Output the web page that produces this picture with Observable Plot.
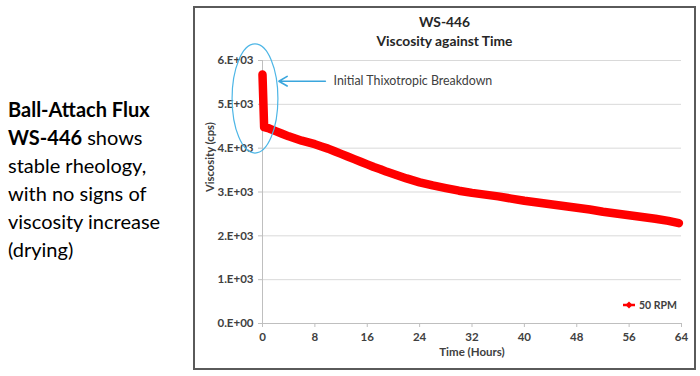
<!DOCTYPE html>
<html><head><meta charset="utf-8">
<script src="https://cdn.jsdelivr.net/npm/d3@7"></script>
<script src="https://cdn.jsdelivr.net/npm/@observablehq/plot@0.6"></script>
<style>
body{margin:0;width:700px;height:376px;background:#fff;position:relative;overflow:hidden;font-family:Lato,"Open Sans",sans-serif;}
#side{position:absolute;left:8px;top:95px;font-size:20px;line-height:28px;color:#000;}
#side b{font-weight:bold;}
#box{position:absolute;left:193px;top:6px;width:499px;height:360px;border:2px solid #5a5a5a;}
#title{position:absolute;left:193px;width:503px;top:12px;text-align:center;font-weight:bold;font-size:13.8px;line-height:19px;color:#262626;}
#chart{position:absolute;left:193px;top:50px;}
#legend{position:absolute;left:621px;top:299px;font-size:10.5px;font-weight:bold;color:#404040;display:flex;align-items:center;}
</style></head>
<body>
<div id="side"><b>Ball-Attach Flux</b><br><b>WS-446</b> shows<br>stable rheology,<br>with no signs of<br>viscosity increase<br>(drying)</div>
<div id="box"></div>
<div id="title">WS-446<br>Viscosity against Time</div>
<div id="chart"></div>
<div id="legend"><svg width="16" height="12"><line x1="2" y1="6" x2="14" y2="6" stroke="red" stroke-width="2.5"/><rect x="5.5" y="3.5" width="5" height="5" fill="red" transform="rotate(45 8 6)"/></svg><span style="margin-left:2px">50 RPM</span></div>
<script>
// Data
const hours = [0, 0.25, 1, 2, 3, 4, 5, 6, 7, 8, 9, 10, 11, 12, 13, 14, 15, 16, 17, 18, 19, 20, 21, 22, 24, 26, 28, 30, 32, 34, 36, 38, 40, 42, 44, 46, 48, 50, 52, 54, 56, 58, 60, 62, 63.6];
const viscosity = [5680, 4480, 4450, 4390, 4330, 4270, 4220, 4170, 4130, 4090, 4040, 3990, 3930, 3870, 3810, 3750, 3690, 3630, 3570, 3520, 3460, 3410, 3360, 3310, 3220, 3150, 3090, 3030, 2980, 2940, 2900, 2850, 2800, 2760, 2720, 2680, 2640, 2600, 2550, 2510, 2470, 2430, 2390, 2340, 2290];
const xTicks = [0, 8, 16, 24, 32, 40, 48, 56, 64];
const yTicks = [0, 1000, 2000, 3000, 4000, 5000, 6000];
const yTickLabels = ["0.E+00", "1.E+03", "2.E+03", "3.E+03", "4.E+03", "5.E+03", "6.E+03"];
const annotationText = ["Initial Thixotropic Breakdown"];
const annotationArrow = [{x1: 9.6, y1: 5528, x2: 2.5, y2: 5528}];
const ellipseSpec = {t: -1.07, v: 5122, rt: 3.5, rv: 1245};

const data = hours.map((t, i) => ({t, v: viscosity[i]}));

const plot = Plot.plot({
  width: 503, height: 310,
  marginLeft: 69, marginRight: 15, marginTop: 10, marginBottom: 37,
  style: {fontFamily: "Lato, 'Open Sans', sans-serif", fontSize: "11.5px", fontWeight: "bold", color: "#404040", background: "transparent", overflow: "visible"},
  x: {domain: [0, 64]},
  y: {domain: [0, 6000]},
  marks: [
    Plot.gridY(yTicks.filter(d => d > 0), {stroke: "#d9d9d9", strokeOpacity: 1}),
    Plot.axisX({ticks: xTicks, tickSize: 4, tickPadding: 5, stroke: "#bfbfbf", label: null, fontSize: 11.5, fill: "#404040"}),
    Plot.axisY({ticks: yTicks, tickSize: 4, tickPadding: 5, stroke: "#bfbfbf", label: null, fontSize: 11.5, fill: "#404040",
      tickFormat: d => yTickLabels[yTicks.indexOf(d)]}),
    Plot.ruleY([0], {stroke: "#bfbfbf"}),
    Plot.ruleX([0], {stroke: "#bfbfbf"}),
    Plot.line(data, {x: "t", y: "v", stroke: "#ff0000", strokeWidth: 8.5, strokeLinejoin: "round", strokeLinecap: "round"}),
    Plot.arrow(annotationArrow, {x1: "x1", y1: "y1", x2: "x2", y2: "y2", stroke: "#3aa6dd", strokeWidth: 1.6, headLength: 9}),
    Plot.text(annotationText, {x: 10.85, y: 5528, text: d => d, textAnchor: "start", fill: "#404040", fontSize: 12.4, fontWeight: "normal"}),
    Plot.text(["Viscosity (cps)"], {frameAnchor: "left", dx: -52, rotate: -90, text: d => d, fontSize: 11.2, fill: "#404040"}),
    Plot.text(["Time (Hours)"], {frameAnchor: "bottom", dy: 32.5, text: d => d, fontSize: 11.5, fill: "#404040"})
  ]
});
document.getElementById("chart").appendChild(plot);
const sx = plot.scale("x"), sy = plot.scale("y");
const cx = sx.apply(ellipseSpec.t), cy = sy.apply(ellipseSpec.v);
const rx = sx.apply(ellipseSpec.t + ellipseSpec.rt) - cx;
const ry = cy - sy.apply(ellipseSpec.v + ellipseSpec.rv);
d3.select(plot).append("ellipse").attr("cx", cx).attr("cy", cy).attr("rx", rx).attr("ry", ry)
  .attr("fill", "none").attr("stroke", "#4db6e6").attr("stroke-width", 1.2);
</script>
</body></html>
